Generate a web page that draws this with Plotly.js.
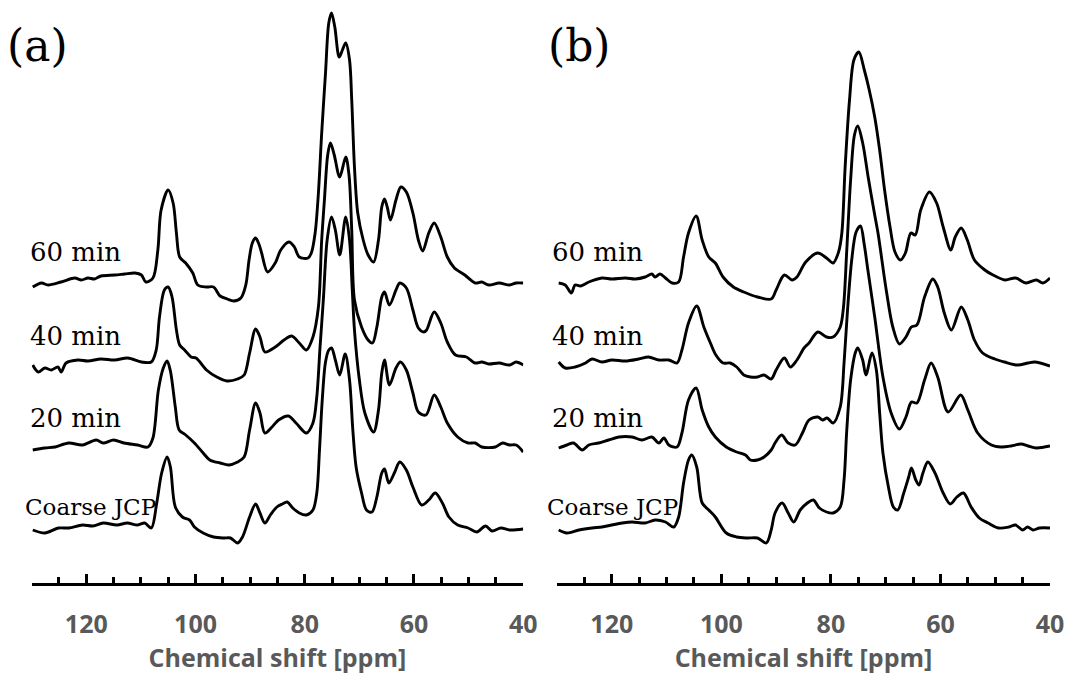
<!DOCTYPE html>
<html>
<head>
<meta charset="utf-8">
<script src="https://cdn.plot.ly/plotly-3.0.1.min.js"></script>
<style>
  html, body { margin: 0; padding: 0; background: #fff; }
  #chart { width: 1070px; height: 677px; }
</style>
</head>
<body>
<div id="chart"></div>
<script>
// Sample labels, bottom to top
const sampleLabels = ['Coarse JCP', '20 min', '40 min', '60 min'];

// Vertical stacking offsets of each spectrum (a.u.), bottom to top
const stackA = [54, 137, 218, 300];
const stackB = [55, 137, 219, 302];

// ---------- Panel (a) ----------
const a60_ppm = [129.8,128.2,127.0,124.6,122.1,120.9,119.7,118.5,117.3,114.8,113.0,111.1,109.9,109.1,107.8,106.9,106.3,105.0,104.1,103.5,102.9,101.8,100.5,99.6,98.0,96.7,95.5,94.2,93.0,91.7,90.8,90.2,89.6,89.0,88.4,87.9,86.8,85.4,84.4,82.9,81.9,81.0,79.4,78.8,78.1,77.5,76.9,76.2,75.6,75.1,74.5,73.7,73.1,72.5,71.8,71.4,70.9,70.3,69.3,68.4,67.4,66.5,65.9,65.4,64.9,64.3,63.3,62.4,61.4,60.2,59.2,58.4,57.3,56.3,55.1,53.9,52.6,50.7,48.8,47.6,46.3,44.4,42.5,41.3,40.0];
const a60_int = [-4,0,-2,1,5,3,5,4,7,8,9,10,8,1,5,33,73,93,80,50,26,20,10,-2,-4,-4,-13,-16,-18,-15,-2,23,40,45,39,30,11,20,33,41,36,26,25,30,50,90,150,210,260,270,256,226,233,240,223,183,116,70,43,28,21,43,76,84,76,63,83,96,91,70,43,32,50,60,46,26,15,8,0,1,-2,0,-2,0,0];

const a40_ppm = [129.8,128.8,127.6,126.4,125.2,124.6,123.7,121.5,119.7,117.3,114.8,112.4,109.9,108.1,107.2,106.6,105.7,105.0,104.3,103.5,102.9,102.0,100.8,99.9,98.0,96.1,94.2,92.3,91.1,90.1,89.0,88.2,87.3,85.4,83.8,82.4,81.0,79.7,78.5,77.5,76.9,76.4,75.8,75.3,74.6,73.6,72.5,71.9,71.4,70.9,69.6,68.4,67.6,66.8,65.9,65.4,64.5,63.3,62.6,61.4,60.2,59.2,58.2,57.7,56.3,55.1,53.9,52.4,50.4,48.8,47.6,46.3,44.4,42.5,41.3,40.0];
const a40_int = [0,-7,-3,-5,-2,-7,2,5,4,6,5,7,3,3,15,48,75,78,68,35,20,15,8,7,-5,-12,-16,-14,-10,12,36,28,13,18,25,29,22,15,28,58,125,165,210,222,210,188,208,190,135,65,38,25,22,38,68,73,60,75,82,77,55,37,33,35,53,42,23,10,8,2,3,1,2,0,3,0];

const a20_ppm = [129.8,127.6,125.7,123.2,120.7,118.2,116.9,115.0,113.1,110.6,108.7,107.8,106.8,105.9,105.2,104.6,103.7,103.0,101.8,100.2,98.6,97.4,95.5,93.9,92.3,91.1,90.1,89.0,88.2,87.3,86.0,84.8,83.0,81.6,79.7,78.5,77.8,77.2,76.6,75.9,75.1,74.4,73.6,72.5,71.8,71.3,70.9,70.0,69.0,67.4,66.5,65.9,65.4,64.5,63.3,62.5,61.4,60.2,59.2,57.8,56.3,55.1,53.9,52.0,50.1,48.8,47.6,45.1,43.8,42.5,41.3,40.0];
const a20_int = [-4,-2,-1,3,1,6,3,6,3,1,-1,8,56,78,85,75,39,16,11,3,-7,-14,-17,-19,-16,-11,16,43,33,13,19,26,30,23,13,23,49,99,146,206,229,216,191,229,206,156,116,66,33,14,36,73,86,61,78,84,76,53,34,31,51,39,23,9,3,3,-1,-1,3,1,1,-6];

const aC_ppm = [129.8,127.6,125.1,123.2,120.7,118.8,116.9,114.4,112.5,110.6,109.3,108.1,107.1,106.2,105.2,104.6,103.7,102.4,101.1,100.2,98.6,96.7,94.8,93.6,92.3,91.4,90.1,89.0,88.2,87.3,86.3,85.1,84.1,83.2,82.2,81.0,79.7,78.5,77.8,77.3,76.8,76.2,75.6,75.1,74.4,73.6,72.6,71.8,71.2,70.6,69.6,68.7,67.7,66.8,65.9,65.4,64.6,63.6,62.6,61.4,60.2,58.6,57.3,56.1,54.8,53.6,52.0,50.1,48.5,46.9,45.7,44.1,42.5,40.0];
const aC_int = [-1,-4,1,1,4,3,6,4,6,4,6,1,26,56,72,62,22,12,9,2,-4,-8,-9,-9,-14,-8,12,25,16,6,14,22,25,27,21,16,14,19,36,79,129,167,179,181,169,154,175,149,99,62,36,19,17,32,56,60,46,56,67,59,42,24,29,36,26,12,4,1,-3,3,-2,1,-1,0];

// ---------- Panel (b) ----------
const b60_ppm = [129.7,128.5,127.4,126.7,125.7,124.2,121.8,120.0,117.5,115.7,113.9,112.7,112.1,111.2,110.2,109.0,107.8,106.9,106.0,104.6,103.5,102.3,101.1,99.7,97.8,95.9,93.4,90.9,90.0,88.5,87.1,86.2,84.6,82.4,80.8,79.6,78.6,78.0,77.4,76.6,75.8,74.9,73.9,73.0,72.0,71.1,70.2,69.2,68.3,67.3,66.4,65.4,64.6,63.6,62.0,60.7,59.5,58.1,57.3,56.2,55.1,53.8,51.9,50.4,48.2,46.3,44.4,42.5,41.3,40.0];
const b60_int = [-2,-4,-12,-4,-5,-1,3,2,3,2,4,7,4,7,3,-2,-1,24,48,65,41,24,18,4,-6,-11,-16,-18,-9,6,1,4,19,28,23,18,29,48,114,181,221,229,211,191,164,131,91,54,29,21,28,48,46,71,89,78,54,31,44,53,41,21,11,6,1,3,-2,1,-2,3];

const b40_ppm = [129.7,128.5,126.7,124.8,123.6,121.8,120.0,117.5,115.1,113.3,111.4,109.6,108.1,107.2,106.0,104.5,103.2,102.0,101.0,99.7,98.4,97.2,95.9,94.7,93.4,92.2,90.9,90.0,88.5,87.4,86.2,84.9,84.0,82.4,80.8,79.6,78.3,77.7,77.1,76.4,75.7,75.1,74.2,73.2,72.0,71.4,69.9,68.7,67.5,66.3,65.3,64.3,62.9,61.4,60.5,59.3,58.0,56.2,55.0,53.8,52.3,50.1,48.3,45.9,44.0,42.8,40.0];
const b40_int = [2,-4,-3,1,5,2,4,3,5,7,4,4,1,14,41,58,37,21,9,1,1,-3,-11,-13,-13,-11,-15,-6,6,-3,4,16,21,32,27,27,37,57,114,184,229,238,221,187,149,131,74,37,20,27,37,39,67,85,77,51,34,57,44,24,11,5,2,-1,1,2,-2];

const b20_ppm = [129.7,128.2,127.0,125.4,124.2,122.4,120.6,118.7,116.3,114.5,112.7,111.4,110.5,109.6,108.1,107.2,106.0,104.6,103.5,102.3,101.1,99.1,97.2,95.6,94.7,93.4,92.2,90.9,90.2,89.0,87.8,86.5,85.2,84.0,82.4,81.5,80.7,79.6,78.3,77.6,77.0,76.2,75.4,74.6,73.9,73.25,72.0,70.5,69.0,67.5,66.3,65.3,64.3,62.9,61.7,60.5,58.6,56.3,55.0,53.2,50.7,48.9,47.1,45.3,44.0,42.5,40.0];
const b20_int = [-2,1,3,-4,1,3,6,9,9,6,9,3,8,1,-1,13,46,58,36,19,9,-1,-6,-9,-14,-14,-11,-4,3,11,3,1,13,26,29,26,28,23,39,83,133,186,214,220,201,176,129,69,33,17,29,44,43,66,83,69,34,51,36,13,1,-1,0,2,0,-2,0];

const bC_ppm = [129.7,128.2,126.0,123.6,121.8,120.0,118.1,116.3,113.9,112.1,110.2,108.7,107.8,106.9,106.0,105.4,104.5,103.5,102.3,101.1,99.1,97.2,95.3,93.4,91.8,90.9,90.2,88.9,87.8,86.8,85.6,84.3,83.2,82.1,80.8,79.6,78.3,77.6,77.1,76.4,75.5,75.1,74.2,73.6,72.5,71.7,71.1,70.5,69.5,68.6,67.8,66.7,65.8,65.3,64.5,63.9,63.2,62.3,61.0,59.5,58.2,57.0,55.8,54.4,52.9,51.3,49.4,47.5,46.3,45.0,44.1,43.1,41.9,40.0];
const bC_int = [-2,-5,-2,0,1,3,5,6,5,8,6,1,11,45,68,73,61,25,18,11,-5,-9,-10,-10,-15,-2,15,25,15,6,18,25,28,20,16,15,21,48,98,148,176,180,168,153,175,158,115,75,41,21,18,35,51,60,48,43,55,66,55,35,24,31,35,21,10,5,0,1,3,-2,1,-2,0,0];

const panelA = [[aC_ppm, aC_int], [a20_ppm, a20_int], [a40_ppm, a40_int], [a60_ppm, a60_int]];
const panelB = [[bC_ppm, bC_int], [b20_ppm, b20_int], [b40_ppm, b40_int], [b60_ppm, b60_int]];

function spectra(panel, offsets, xa, ya) {
  return panel.map(([ppm, inten], i) => ({
    type: 'scatter',
    mode: 'lines',
    name: sampleLabels[i],
    x: ppm,
    y: inten.map(v => v + offsets[i]),
    xaxis: xa,
    yaxis: ya,
    line: { color: '#000', width: 2.9, shape: 'spline', smoothing: 0.9 },
    hoverinfo: 'skip'
  }));
}

const data = [...spectra(panelA, stackA, 'x', 'y'), ...spectra(panelB, stackB, 'x2', 'y2')];

const axisFont = { family: 'Open Sans, sans-serif', size: 25, color: '#595959', weight: 700 };

function xAxis(domain, anchor) {
  return {
    domain: domain,
    anchor: anchor,
    range: [130, 40],
    showline: true, linecolor: '#000', linewidth: 3,
    ticks: 'inside', ticklen: 9, tickwidth: 3, tickcolor: '#000',
    tick0: 40, dtick: 20,
    minor: { dtick: 5, tick0: 40, ticks: 'inside', ticklen: 6, tickwidth: 3, tickcolor: '#000', showgrid: false },
    showgrid: false, zeroline: false,
    tickfont: axisFont,
    ticklabelstandoff: 17,
    title: { text: 'Chemical shift [ppm]', font: axisFont, standoff: 8 },
    automargin: false,
    fixedrange: true
  };
}

function yAxis(anchor) {
  return { anchor: anchor, range: [0, 583], visible: false, fixedrange: true };
}

const labelFont = { family: 'DejaVu Serif, serif', size: 26, color: '#000' };
const smallLabelFont = { family: 'DejaVu Serif, serif', size: 23, color: '#000' };
const panelFont = { family: 'DejaVu Serif, serif', size: 44, color: '#000' };

function label(text, x, y, yref, font) {
  return { text: text, x: x, y: y, xref: 'paper', yref: yref, xanchor: 'left', yanchor: 'middle',
           showarrow: false, font: font };
}

const labelY = [76, 165, 247, 331];
const annotations = [
  label('(a)', 0.005, 538, 'y', panelFont),
  label('(b)', 0.510, 538, 'y2', panelFont)
];
sampleLabels.forEach((t, i) => {
  const f = i === 0 ? smallLabelFont : labelFont;
  annotations.push(label(t, i === 0 ? 0.0215 : 0.026, labelY[i], 'y', f));
  annotations.push(label(t, i === 0 ? 0.509 : 0.514, labelY[i], 'y2', f));
});

const layout = {
  width: 1070, height: 677,
  margin: { l: 0, r: 0, t: 0, b: 94, pad: 0 },
  paper_bgcolor: '#fff', plot_bgcolor: '#fff',
  showlegend: false,
  xaxis: xAxis([0.0296, 0.4890], 'y'),
  yaxis: yAxis('x'),
  xaxis2: xAxis([0.5206, 0.9813], 'y2'),
  yaxis2: yAxis('x2'),
  annotations: annotations
};

Plotly.newPlot('chart', data, layout, { displayModeBar: false, staticPlot: true });
</script>
</body>
</html>
